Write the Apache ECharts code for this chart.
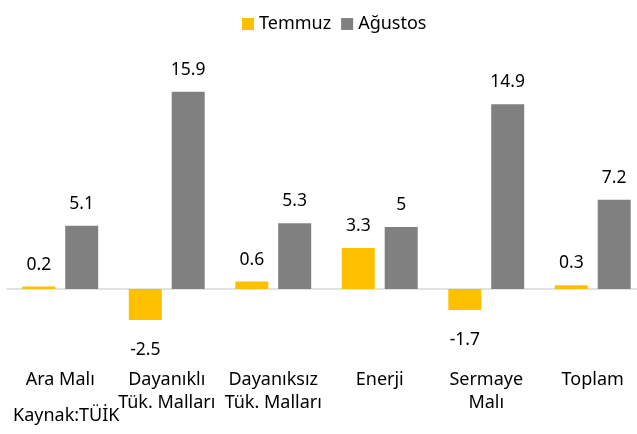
<!DOCTYPE html>
<html>
<head>
<meta charset="utf-8">
<script src="https://cdn.jsdelivr.net/npm/echarts@6/dist/echarts.min.js"></script>
<style>
  html, body { margin: 0; padding: 0; background: #fff; }
  #chart { width: 637px; height: 434px; }
</style>
</head>
<body>
<div id="chart"></div>
<script>
// kategoriler ve seriler
const categories = ['Ara Malı', 'Dayanıklı\nTük. Malları', 'Dayanıksız\nTük. Malları', 'Enerji', 'Sermaye\nMalı', 'Toplam']
const temmuz = [0.2, -2.5, 0.6, 3.3, -1.7, 0.3]
const agustos = [5.1, 15.9, 5.3, 5, 14.9, 7.2]

const fontFamily = '"Noto Sans", "Open Sans", sans-serif'

// negatif değerlerde etiket çubuğun altında
const withLabels = (arr) => arr.map((v) => ({
  value: v,
  label: v < 0 ? { position: 'bottom', distance: 21 } : { position: 'top', distance: 13 }
}))

const chart = echarts.init(document.getElementById('chart'))
chart.setOption({
  animation: false,
  textStyle: { fontFamily },
  legend: {
    left: 237,
    top: 10,
    itemWidth: 12,
    itemHeight: 12,
    itemGap: 10,
    icon: 'rect',
    textStyle: { fontSize: 18, color: '#000' }
  },
  grid: { left: 7, right: -9, top: 41, bottom: 83, containLabel: false, outerBoundsMode: 'none' },
  xAxis: [
    {
      // sıfır çizgisi
      type: 'category',
      data: categories,
      axisLine: { onZero: true, lineStyle: { color: '#d9d9d9', width: 1.5 } },
      axisTick: { show: false },
      axisLabel: { show: false }
    },
    {
      // alttaki kategori etiketleri
      type: 'category',
      data: categories,
      position: 'bottom',
      axisLine: { show: false, onZero: false },
      axisTick: { show: false },
      axisLabel: { margin: 17, fontSize: 18, color: '#000', lineHeight: 23, interval: 0 }
    }
  ],
  yAxis: {
    type: 'value',
    min: -5,
    max: 20,
    show: false,
    splitLine: { show: false }
  },
  series: [
    {
      name: 'Temmuz',
      type: 'bar',
      data: withLabels(temmuz),
      barWidth: 33,
      barGap: '30%',
      itemStyle: { color: '#ffc000' },
      label: { show: true, fontSize: 17.5, color: '#000' }
    },
    {
      name: 'Ağustos',
      type: 'bar',
      data: withLabels(agustos),
      barWidth: 33,
      barGap: '30%',
      itemStyle: { color: '#808080' },
      label: { show: true, fontSize: 17.5, color: '#000' }
    }
  ],
  graphic: [
    {
      type: 'text',
      left: 13,
      top: 407,
      style: { text: 'Kaynak:TÜİK', fontSize: 18, fill: '#000', fontFamily }
    }
  ]
})
</script>
</body>
</html>
